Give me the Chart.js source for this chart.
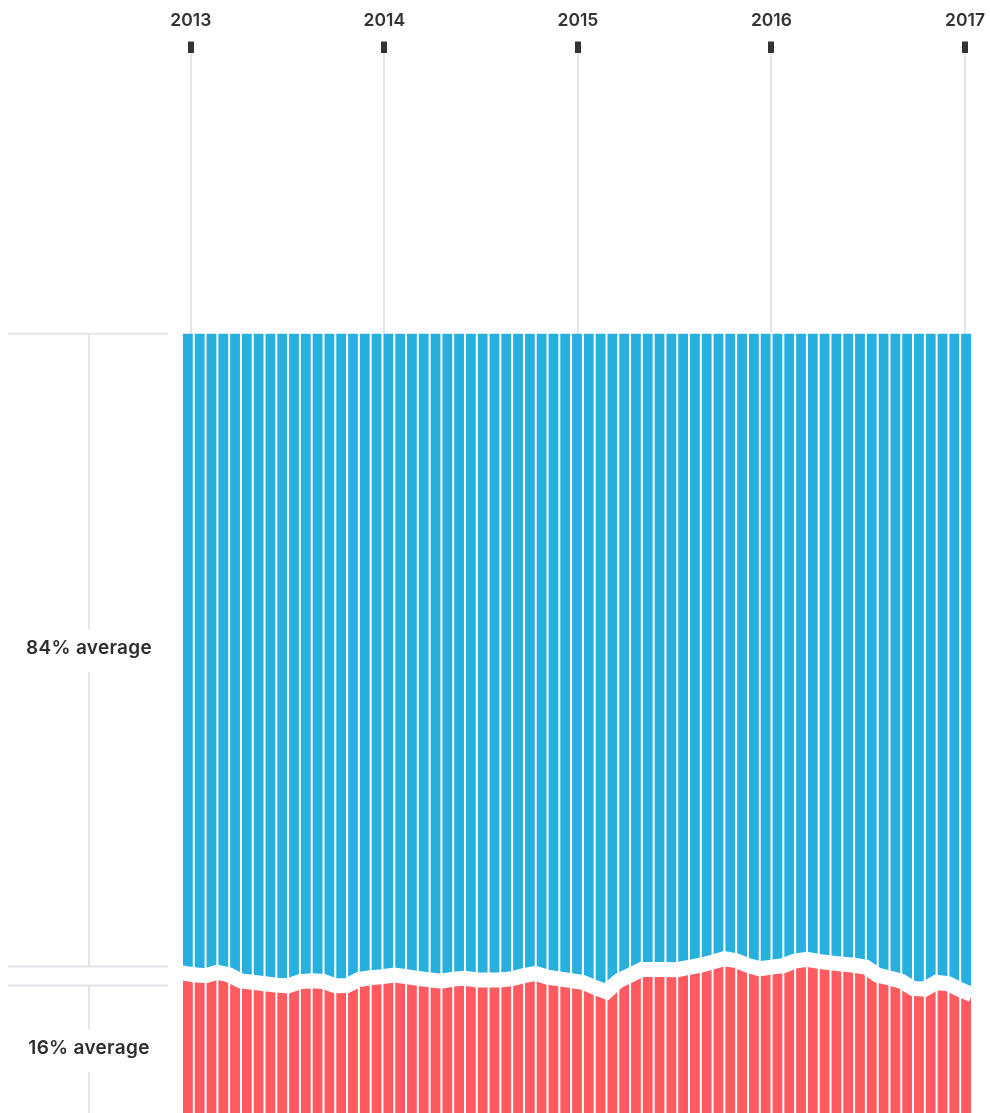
<!DOCTYPE html>
<html lang="en">
  <head>
    <meta charset="UTF-8" />
    <title>Share over time</title>
    <script src="https://cdn.jsdelivr.net/npm/chart.js"></script>
    <style>
      html,
      body {
        margin: 0;
        padding: 0;
        background: #fff;
        overflow: hidden;
      }
      .wrap {
        position: relative;
        width: 990px;
        height: 1113px;
      }
    </style>
  </head>
  <body>
    <div class="wrap"><canvas id="shareChart"></canvas></div>

    <script>
      // one point per period (share in %)
      const redShare = [
        17.99, 17.73, 17.62, 18.06, 17.72, 16.96, 16.78, 16.59, 16.41, 16.32,
        16.85, 16.96, 16.88, 16.33, 16.35, 17.13, 17.35, 17.5, 17.71, 17.5,
        17.28, 17.09, 16.91, 17.18, 17.29, 17.08, 17.08, 17.08, 17.24, 17.63,
        17.92, 17.44, 17.22, 16.99, 16.76, 16.13, 15.55, 16.94, 17.67, 18.41,
        18.41, 18.41, 18.4, 18.69, 18.97, 19.36, 19.81, 19.55, 18.94, 18.51,
        18.72, 18.92, 19.51, 19.71, 19.46, 19.27, 19.1, 18.96, 18.72, 17.69,
        17.33, 16.92, 15.99, 15.9, 16.77, 16.59, 15.83, 15.19,
      ];
      const blueShare = [
        82.01, 82.27, 82.38, 81.94, 82.28, 83.04, 83.22, 83.41, 83.59, 83.68,
        83.15, 83.04, 83.12, 83.67, 83.65, 82.87, 82.65, 82.5, 82.29, 82.5,
        82.72, 82.91, 83.09, 82.82, 82.71, 82.92, 82.92, 82.92, 82.76, 82.37,
        82.08, 82.56, 82.78, 83.01, 83.24, 83.87, 84.45, 83.06, 82.33, 81.59,
        81.59, 81.59, 81.6, 81.31, 81.03, 80.64, 80.19, 80.45, 81.06, 81.49,
        81.28, 81.08, 80.49, 80.29, 80.54, 80.73, 80.9, 81.04, 81.28, 82.31,
        82.67, 83.08, 84.01, 84.1, 83.23, 83.41, 84.17, 84.81,
      ];
      const periods = redShare.map((_, i) => "P" + (i + 1));
      const yearTicks = [2013, 2014, 2015, 2016, 2017];
      const averageLabels = ["84% average", "16% average"];

      const RED = "#ff5a5f";
      const BLUE = "#27b0de";
      const LINE_GRAY = "#e3e6e9";
      const TEXT = "#2e2e2e";

      // white gaps between the columns, drawn over the fills
      const separators = {
        id: "separators",
        afterDatasetsDraw(chart) {
          const { ctx, scales } = chart;
          const top = scales.y.getPixelForValue(100);
          const bottom = scales.y.getPixelForValue(0);
          ctx.save();
          ctx.strokeStyle = "#fff";
          ctx.lineWidth = 2;
          periods.forEach((p, i) => {
            const px = scales.x.getPixelForValue(i);
            ctx.beginPath();
            ctx.moveTo(px, top - 1);
            ctx.lineTo(px, bottom + 1);
            ctx.stroke();
          });
          ctx.restore();
        },
      };

      // bracket lines + "average" labels on the left
      const averages = {
        id: "averages",
        afterDraw(chart) {
          const { ctx, scales } = chart;
          const avg = redShare.reduce((a, b) => a + b, 0) / redShare.length;
          const top = scales.y.getPixelForValue(100);
          const mid = scales.y.getPixelForValue(avg);
          const bottom = scales.y.getPixelForValue(0);
          const upper = mid - 9.5;
          const lower = mid + 9.5;
          const x0 = 8,
            x1 = 168,
            cx = 89;

          ctx.save();
          ctx.strokeStyle = LINE_GRAY;
          ctx.lineWidth = 2;
          [top, upper, lower].forEach((yy) => {
            ctx.beginPath();
            ctx.moveTo(x0, yy);
            ctx.lineTo(x1, yy);
            ctx.stroke();
          });

          const spans = [
            [top, upper],
            [lower, bottom + 2],
          ];
          ctx.font = "600 19px Inter, 'Noto Sans', sans-serif";
          ctx.letterSpacing = "0.3px";
          ctx.fillStyle = TEXT;
          ctx.textAlign = "center";
          ctx.textBaseline = "middle";
          spans.forEach(([a, b], i) => {
            const c = (a + b) / 2;
            ctx.beginPath();
            ctx.moveTo(cx, a);
            ctx.lineTo(cx, c - 21);
            ctx.moveTo(cx, c + 22);
            ctx.lineTo(cx, b);
            ctx.stroke();
            ctx.fillText(averageLabels[i], cx, c - 2);
          });
          ctx.restore();
        },
      };

      const ctx = document.getElementById("shareChart").getContext("2d");
      new Chart(ctx, {
        type: "line",
        data: {
          labels: periods,
          datasets: [
            {
              label: "Red",
              data: redShare,
              fill: "origin",
              backgroundColor: RED,
              borderColor: "#fff",
              borderWidth: 15,
              pointRadius: 0,
              tension: 0,
            },
            {
              label: "Blue",
              data: blueShare,
              fill: "-1",
              backgroundColor: BLUE,
              borderWidth: 0,
              pointRadius: 0,
              tension: 0,
            },
          ],
        },
        options: {
          responsive: true,
          maintainAspectRatio: false,
          animation: false,
          layout: { padding: { left: 182, right: 18, top: 0, bottom: 0 } },
          plugins: {
            legend: { display: false },
            tooltip: { enabled: false },
          },
          scales: {
            x: { type: "category", display: false, offset: false },
            yr: {
              type: "linear",
              axis: "x",
              position: "top",
              min: 2012.9545,
              max: 2017.0362,
              afterBuildTicks: (s) => {
                s.ticks = yearTicks.map((v) => ({ value: v }));
              },
              afterFit: (s) => {
                // year labels may hang over the edges; don't shrink the plot for them
                s.paddingLeft = 0;
                s.paddingRight = 0;
              },
              ticks: {
                callback: (v) => String(v),
                color: "#333",
                font: { family: "Inter", size: 17.5, weight: "600", lineHeight: 1 },
                padding: 12,
                autoSkip: false,
                maxRotation: 0,
              },
              grid: {
                color: LINE_GRAY,
                lineWidth: 2,
                tickLength: 11,
                tickWidth: 6,
                tickColor: "#333",
              },
              border: { display: false },
            },
            y: { stacked: true, display: false, min: 0, max: 136.1 },
          },
        },
        plugins: [separators, averages],
      });
    </script>
  </body>
</html>
